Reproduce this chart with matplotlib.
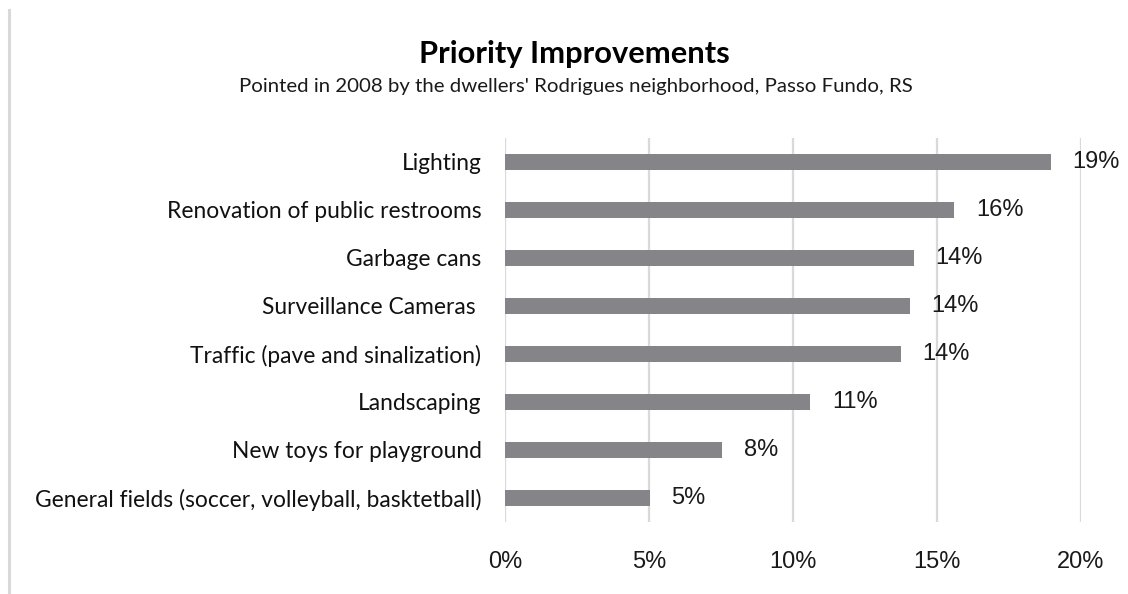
import matplotlib
matplotlib.use("Agg")
import matplotlib.pyplot as plt
from matplotlib.lines import Line2D
from matplotlib.ticker import FuncFormatter

categories = [
    "Lighting",
    "Renovation of public restrooms",
    "Garbage cans",
    "Surveillance Cameras ",
    "Traffic (pave and sinalization)",
    "Landscaping",
    "New toys for playground",
    "General fields (soccer, volleyball, basktetball)",
]
values = [18.95, 15.6, 14.2, 14.05, 13.75, 10.6, 7.55, 5.03]
value_labels = ["19%", "16%", "14%", "14%", "14%", "11%", "8%", "5%"]
xticks = [0, 5, 10, 15, 20]

title = "Priority Improvements"
subtitle = "Pointed in 2008 by the dwellers' Rodrigues neighborhood, Passo Fundo, RS"

W, H, DPI = 1128, 594, 100
fig = plt.figure(figsize=(W / DPI, H / DPI), dpi=DPI)
fig.patch.set_facecolor("white")
renderer = fig.canvas.get_renderer()


def fit_size(text, family, weight, target_px):
    t = fig.text(0, 0, text, fontsize=10, family=family, weight=weight)
    w = t.get_window_extent(renderer=renderer).width
    t.remove()
    return 10 * target_px / w


cat_font = "Lato"
cat_size = fit_size("Renovation of public restrooms", cat_font, "normal", 314)
title_size = fit_size(title, cat_font, "bold", 311)
sub_size = fit_size(subtitle, cat_font, "normal", 674)
num_font = "Liberation Sans"
num_size = 17

x0, x1 = 505, 1081
ytop, ybot = 138, 522
ax = fig.add_axes([x0 / W, 1 - ybot / H, (x1 - x0) / W, (ybot - ytop) / H])

ypos = list(range(len(categories)))
ax.barh(ypos, values, height=0.35, color="#858589", zorder=3)
ax.set_ylim(len(categories) - 0.5, -0.5)
ax.set_xlim(0, 20)
ax.set_xticks(xticks)
ax.xaxis.set_major_formatter(FuncFormatter(lambda v, p: f"{v:.0f}%"))
ax.set_yticks(ypos)
ax.set_yticklabels(categories, fontsize=cat_size, family=cat_font, color="#111111")
for lab in ax.get_xticklabels():
    lab.set_fontsize(num_size)
    lab.set_family(num_font)
    lab.set_color("#1a1a1a")
ax.tick_params(axis="y", length=0, pad=17)
ax.tick_params(axis="x", length=0, pad=21)
ax.grid(axis="x", color="#D9D9D9", linewidth=1.6, zorder=0)
for s in ax.spines.values():
    s.set_visible(False)

for y, v, lab in zip(ypos, values, value_labels):
    ax.annotate(lab, xy=(v, y), xytext=(15.5, 0), textcoords="offset points",
                ha="left", va="center", fontsize=num_size, family=num_font,
                color="#1a1a1a", zorder=4)

fig.text(574.5 / W, 1 - 62.7 / H, title, ha="center", va="baseline",
         fontsize=title_size, family=cat_font, weight="bold", color="black")
fig.text(575.5 / W, 1 - 91.7 / H, subtitle, ha="center", va="baseline",
         fontsize=sub_size, family=cat_font, color="#1a1a1a")

fig.add_artist(Line2D([8.5 / W, 8.5 / W], [1 - 10 / H, 1 - 593 / H],
                      transform=fig.transFigure, color="#D9D9D9", linewidth=2.2))

fig.savefig("out.png", dpi=DPI, facecolor="white")
